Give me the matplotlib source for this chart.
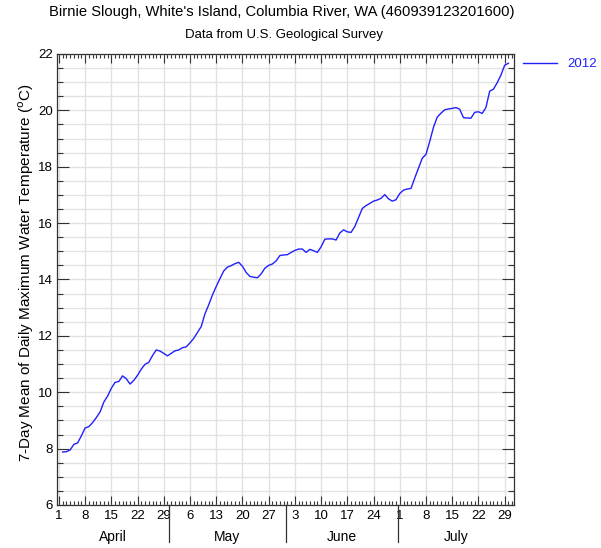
import matplotlib.pyplot as plt
import matplotlib.dates as mdates
import matplotlib.transforms as mtransforms
import numpy as np
import pandas as pd
from matplotlib.ticker import MultipleLocator

plt.rcParams['font.family'] = ['Liberation Sans', 'DejaVu Sans']

# 7-day mean of daily max water temperature, Apr 2 - Jul 30 2012
start_date = '2012-04-02'
temps = [
    7.88, 7.89, 7.95, 8.15, 8.20, 8.45, 8.73, 8.78, 8.92, 9.10,
    9.30, 9.65, 9.86, 10.14, 10.35, 10.38, 10.58, 10.48, 10.29, 10.42,
    10.60, 10.82, 10.99, 11.06, 11.30, 11.50, 11.46, 11.38, 11.29, 11.38,
    11.47, 11.50, 11.58, 11.61, 11.75, 11.91, 12.12, 12.33, 12.78, 13.10,
    13.45, 13.75, 14.03, 14.30, 14.44, 14.49, 14.56, 14.61, 14.47, 14.25,
    14.11, 14.08, 14.06, 14.20, 14.40, 14.50, 14.55, 14.66, 14.85, 14.87,
    14.88, 14.96, 15.03, 15.08, 15.08, 14.96, 15.07, 15.02, 14.96, 15.16,
    15.43, 15.44, 15.44, 15.40, 15.65, 15.76, 15.69, 15.67, 15.88, 16.20,
    16.52, 16.62, 16.70, 16.78, 16.82, 16.88, 17.01, 16.86, 16.78, 16.83,
    17.05, 17.17, 17.21, 17.23, 17.60, 17.95, 18.30, 18.44, 18.90, 19.40,
    19.76, 19.90, 20.02, 20.05, 20.07, 20.10, 20.04, 19.74, 19.73, 19.72,
    19.93, 19.95, 19.89, 20.10, 20.68, 20.75, 20.98, 21.25, 21.60, 21.67,
]
months = ['April', 'May', 'June', 'July']
month_starts = ['2012-04-01', '2012-05-01', '2012-06-01', '2012-07-01', '2012-08-01']
series_label = '2012'

dates = pd.date_range(start_date, periods=len(temps), freq='D')

fig = plt.figure(figsize=(6.01, 5.48), dpi=100)
ax = fig.add_axes([0.0948, 0.0785, 0.7605, 0.823])

ax.plot(dates, temps, color='#2020ff', lw=1.0, label=series_label)

half = pd.Timedelta(hours=12)
ax.set_xlim(pd.Timestamp('2012-04-01') - half, pd.Timestamp('2012-07-31') + half)
ax.set_ylim(6, 22)

# weekly major ticks from Apr 1, daily minor ticks
week_ticks = pd.date_range('2012-04-01', '2012-07-31', freq='7D')
ax.set_xticks(week_ticks)
ax.set_xticklabels([str(d.day) for d in week_ticks])
ax.xaxis.set_minor_locator(mdates.DayLocator())
ax.yaxis.set_major_locator(MultipleLocator(2))
ax.yaxis.set_minor_locator(MultipleLocator(0.5))

ax.tick_params(axis='both', which='both', direction='in', top=True, right=True,
               labelsize=9.5, width=0.8, colors='#333333', labelcolor='black')
ax.tick_params(axis='x', which='major', length=6.5, pad=3.5)
ax.tick_params(axis='x', which='minor', length=3)
ax.tick_params(axis='y', which='major', length=8.5, pad=3)
ax.tick_params(axis='y', which='minor', length=4.3)

ax.grid(True, which='major', axis='x', color='#e2e2e2', lw=1.0)
ax.grid(True, which='both', axis='y', color='#e2e2e2', lw=1.0)
ax.set_axisbelow(True)
for s in ax.spines.values():
    s.set_color('#333333')
    s.set_linewidth(0.9)

# month separators and names under the axis
trans = mtransforms.blended_transform_factory(ax.transData, ax.transAxes)
bounds = [pd.Timestamp(m) - half for m in month_starts]
for b in bounds[1:-1]:
    ax.plot([b, b], [0, -0.082], color='#333333', lw=0.9, transform=trans, clip_on=False)
for name, b0, b1 in zip(months, bounds[:-1], bounds[1:]):
    ax.text(b0 + (b1 - b0) / 2, -0.071, name, transform=trans, ha='center', va='center',
            fontsize=10)

ax.set_ylabel('7-Day Mean of Daily Maximum Water Temperature ($^{\\rm o}$C)', fontsize=11)
ax.yaxis.set_label_coords(-0.046, 0.515)

fig.text(0.468, 0.978, "Birnie Slough, White's Island, Columbia River, WA (460939123201600)",
         ha='center', va='center', fontsize=10.6)
fig.text(0.473, 0.937, 'Data from U.S. Geological Survey', ha='center', va='center', fontsize=9.5)

ax.legend(loc='upper left', bbox_to_anchor=(0.99, 1.02), frameon=False, handlelength=2.6,
          fontsize=9.5, labelcolor='#2020ff', borderaxespad=0.6)

fig.savefig('out.png', dpi=100)
